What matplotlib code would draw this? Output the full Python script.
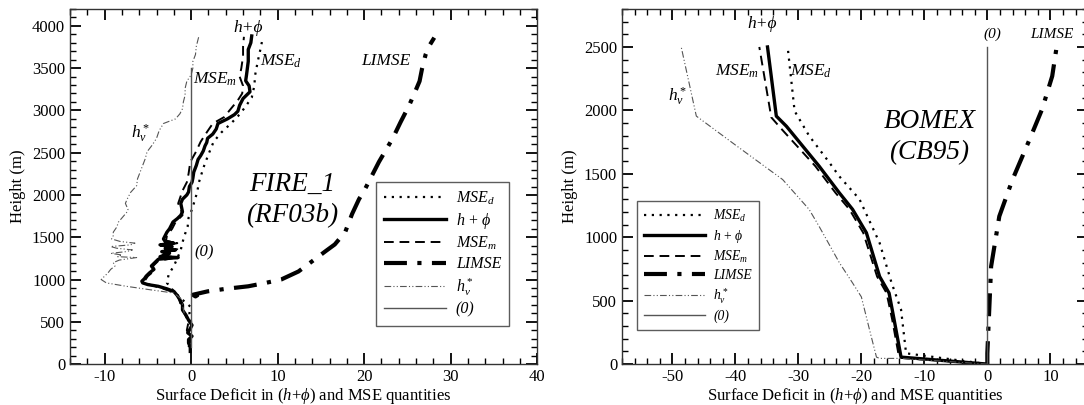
"""
Surface deficit profiles: FIRE_1 (RF03b) and BOMEX (CB95)
"""

import matplotlib
matplotlib.use('Agg')
import matplotlib.pyplot as plt
from matplotlib.ticker import MultipleLocator
from matplotlib.font_manager import FontProperties

plt.rcParams['font.family'] = ['Liberation Serif', 'DejaVu Serif']
plt.rcParams['mathtext.fontset'] = 'custom'
plt.rcParams['mathtext.rm'] = 'Liberation Serif'
plt.rcParams['mathtext.it'] = 'Liberation Serif:italic'
plt.rcParams['mathtext.bf'] = 'Liberation Serif:bold'
plt.rcParams['axes.unicode_minus'] = False

# ---------------- FIRE_1 (RF03b) ----------------
fire_hphi_z = [150, 200, 250, 290, 330, 370, 420, 460, 520, 580, 640, 700, 760, 810,
               860, 890, 920, 940, 960, 980, 1010, 1040, 1080, 1120, 1160, 1200, 1240,
               1260, 1270, 1290, 1310, 1330, 1350, 1370, 1390, 1410, 1430, 1450, 1480,
               1520, 1560, 1600, 1640, 1680, 1720, 1760, 1800, 1850, 1900, 1950, 2000,
               2035, 2100, 2150, 2200, 2270, 2350, 2420, 2465, 2520, 2580, 2620, 2670,
               2720, 2780, 2845, 2900, 2950, 2990, 3060, 3140, 3220, 3290, 3350, 3420,
               3500, 3580, 3640, 3720, 3800, 3880]
fire_hphi = [-0.1, -0.1, -0.3, -0.3, 0.1, -0.4, -0.1, 0.1, -0.3, -0.6, -1.0, -1.0, -1.3,
             -1.6, -2.0, -2.8, -3.8, -5.0, -5.6, -5.7, -5.4, -5.2, -4.8, -4.3, -4.6, -4.2,
             -3.8, -1.5, -3.6, -3.0, -2.5, -3.4, -1.8, -3.0, -2.2, -3.6, -2.0, -3.0, -3.2,
             -3.0, -2.8, -2.5, -2.3, -2.1, -1.6, -1.2, -1.0, -1.1, -1.2, -1.0, -0.5,
             -0.3, -0.2, 0.1, 0.2, 0.3, 0.6, 0.8, 1.1, 1.4, 1.6, 1.8, 1.9,
             2.5, 2.9, 3.1, 4.2, 5.0, 5.4, 5.6, 6.0, 6.8, 6.7, 6.3, 6.4,
             6.5, 6.6, 6.6, 6.6, 6.9, 7.0]

fire_msem_z = [200, 300, 400, 500, 600, 700, 800, 860, 900, 940, 980, 1040, 1100, 1160,
               1220, 1260, 1290, 1330, 1360, 1400, 1430, 1460, 1520, 1600, 1680, 1760,
               1830, 1900, 1960, 2050, 2150, 2250, 2390, 2500, 2630, 2740, 2845, 2920,
               3020, 3120, 3200, 3290, 3400, 3500, 3640, 3760, 3870]
fire_msem = [-0.3, 0.0, -0.5, -0.3, -0.8, -1.2, -1.5, -2.3, -3.5, -4.8, -5.4, -5.0, -4.3,
             -4.4, -3.8, -1.8, -3.3, -2.6, -1.6, -3.3, -1.6, -2.9, -2.8, -2.2, -1.8, -1.0,
             -1.2, -1.5, -1.3, -1.0, -0.5, -0.3, -0.1, 0.5, 1.1, 1.8, 2.5, 3.8,
             4.6, 5.4, 5.9, 6.0, 5.6, 5.8, 6.0, 6.0, 6.1]

fire_msed_z = [500, 600, 680, 760, 860, 960, 1060, 1160, 1250, 1350, 1440, 1540, 1630,
               1730, 1830, 1930, 2035, 2150, 2250, 2345, 2480, 2630, 2740, 2845, 2930,
               3020, 3150, 3290, 3420, 3580, 3720, 3870]
fire_msed = [0.0, -0.2, -0.1, -1.0, -2.0, -2.8, -2.6, -2.0, -1.6, -1.2, -1.0, -0.7, -0.4,
             -0.3, 0.1, 0.4, 0.7, 0.9, 1.2, 1.5, 2.0, 2.6, 3.5, 4.6, 5.4,
             6.1, 7.0, 7.3, 7.4, 7.7, 8.0, 8.3]

fire_limse_z = [820, 800, 820, 860, 890, 920, 960, 1000, 1095, 1240, 1340, 1415, 1500,
                1560, 1775, 1950, 2070, 2230, 2390, 2530, 2670, 2860, 3060, 3200, 3345,
                3500, 3660, 3760, 3860]
fire_limse = [0.8, 0.5, 0.2, 1.9, 4.0, 6.6, 8.6, 10.4, 12.4, 14.3, 15.6, 16.6, 17.3,
              17.8, 18.6, 19.4, 20.1, 20.9, 21.7, 22.5, 23.3, 24.2, 25.2, 25.8, 26.4,
              26.7, 27.1, 27.5, 28.1]

fire_hv_z = [600, 700, 760, 800, 840, 880, 920, 960, 1000, 1040, 1080, 1120, 1160, 1200,
             1230, 1260, 1270, 1290, 1310, 1330, 1350, 1370, 1390, 1410, 1430, 1450,
             1480, 1520, 1560, 1620, 1680, 1740, 1800, 1830, 1900, 1950, 2030, 2110,
             2190, 2270, 2350, 2430, 2510, 2590, 2670, 2760, 2845, 2900, 2960, 3020,
             3100, 3180, 3260, 3345, 3420, 3500, 3580, 3660, 3760, 3880]
fire_hv = [-0.8, -1.0, -1.0, -1.5, -2.0, -4.8, -7.5, -9.8, -10.4, -10.0, -9.6, -9.3, -8.8,
           -9.0, -8.3, -6.3, -8.5, -8.0, -9.3, -7.5, -6.8, -8.6, -9.3, -7.0, -6.5, -8.2,
           -9.2, -9.0, -9.0, -8.6, -8.4, -7.9, -7.4, -7.3, -7.6, -7.4, -7.0, -6.3,
           -6.2, -5.9, -5.6, -5.3, -5.1, -4.5, -4.0, -3.7, -3.2, -1.8, -1.3, -1.0,
           -0.9, -0.7, -0.7, -0.5, 0.0, 0.2, 0.2, 0.5, 0.6, 0.9]

fire_zero_z = [200, 3500]

# ---------------- BOMEX (CB95) ----------------
bomex_hphi_z = [0, 55, 350, 560, 690, 1035, 1220, 1350, 1560, 1875, 1955, 2500]
bomex_hphi = [0.0, -13.7, -14.8, -15.6, -17.1, -19.2, -21.4, -23.5, -26.7, -31.9, -33.5, -34.9]

bomex_msem_z = [0, 50, 350, 560, 690, 1035, 1220, 1350, 1560, 1860, 1945, 2500]
bomex_msem = [0.0, -14.0, -15.1, -16.0, -17.5, -19.7, -21.9, -24.1, -27.3, -32.8, -34.3, -36.2]

bomex_msed_z = [0, 85, 430, 640, 955, 1300, 1480, 1590, 1800, 1995, 2500]
bomex_msed = [0.0, -12.9, -13.7, -15.2, -17.1, -20.3, -23.5, -25.1, -28.3, -30.6, -31.7]

bomex_hv_z = [0, 45, 45, 55, 270, 530, 640, 800, 1085, 1220, 1455, 1720, 1955, 2500]
bomex_hv = [0.0, -14.0, -17.1, -17.6, -18.7, -20.0, -21.4, -23.5, -26.7, -28.3, -32.5, -39.8, -46.2, -48.6]

bomex_limse_z = [0, 85, 770, 1165, 1455, 1770, 2010, 2270, 2500]
bomex_limse = [0.0, 0.0, 0.6, 1.9, 4.0, 6.7, 8.7, 10.3, 11.0]

bomex_zero_z = [0, 2500]

legend_labels = [r'$MSE_d$', r'$h\,+\,\phi$', r'$MSE_m$', 'LIMSE', r'$h_v^*$', '(0)']

GREY = '#555555'


def draw_profiles(ax, msed, hphi, msem, limse, hv, zero):
    ax.plot(msed[1], msed[0], color='k', lw=1.6, linestyle=(0, (1, 2.5)), label=legend_labels[0])
    ax.plot(hphi[1], hphi[0], color='k', lw=2.4, linestyle='-', label=legend_labels[1])
    ax.plot(msem[1], msem[0], color='k', lw=1.4, linestyle=(0, (5, 3)), label=legend_labels[2])
    ax.plot(limse[1], limse[0], color='k', lw=3.0, linestyle=(0, (5.5, 2.5, 1, 2.5)), label=legend_labels[3])
    ax.plot(hv[1], hv[0], color=GREY, lw=0.8, linestyle=(0, (6, 2, 1, 2, 1, 2)), label=legend_labels[4])
    ax.plot([0, 0], zero, color=GREY, lw=1.0, linestyle='-', label=legend_labels[5])


def style_axes(ax, xmaj, ymaj):
    ax.xaxis.set_major_locator(MultipleLocator(xmaj))
    ax.xaxis.set_minor_locator(MultipleLocator(2))
    ax.yaxis.set_major_locator(MultipleLocator(ymaj))
    ax.yaxis.set_minor_locator(MultipleLocator(100))
    ax.tick_params(which='both', direction='in', top=True, right=True, labelsize=12)
    ax.tick_params(which='major', length=8, width=1.3)
    ax.tick_params(which='minor', length=4, width=1.0)
    for sp in ax.spines.values():
        sp.set_linewidth(1.0)
        sp.set_color('#333333')
    ax.set_ylabel('Height (m)', fontsize=12)
    ax.set_xlabel(r'Surface Deficit in $\mathit{(h{+}\phi)}$ and MSE quantities', fontsize=12, labelpad=1)


fig = plt.figure(figsize=(10.84, 4.05), dpi=100)
ax1 = fig.add_axes([0.0646, 0.101, 0.431, 0.877])
ax2 = fig.add_axes([0.5738, 0.101, 0.430, 0.877])

# left panel
draw_profiles(ax1, (fire_msed_z, fire_msed), (fire_hphi_z, fire_hphi), (fire_msem_z, fire_msem),
              (fire_limse_z, fire_limse), (fire_hv_z, fire_hv), fire_zero_z)
ax1.set_xlim(-14, 40)
ax1.set_ylim(0, 4200)
style_axes(ax1, 10, 500)

itp = dict(style='italic', fontsize=12.5)
ax1.text(6.6, 3980, 'h+ϕ', ha='center', va='center', **itp)
ax1.text(10.4, 3580, r'$MSE_d$', ha='center', va='center', fontsize=12.5)
ax1.text(2.8, 3370, r'$MSE_m$', ha='center', va='center', fontsize=12.5)
ax1.text(-5.9, 2730, r'$h_v^*$', ha='center', va='center', fontsize=12.5)
ax1.text(22.5, 3580, 'LIMSE', ha='center', va='center', **itp)
ax1.text(1.5, 1320, '(0)', ha='center', va='center', style='italic', fontsize=12)
ax1.text(11.7, 2130, 'FIRE_1', ha='center', va='center', style='italic', fontsize=19.5)
ax1.text(11.7, 1760, '(RF03b)', ha='center', va='center', style='italic', fontsize=19.5)

leg1 = ax1.legend(loc='lower left', bbox_to_anchor=(0.655, 0.108), frameon=True, fancybox=False,
                  prop=FontProperties(family='Liberation Serif', style='italic', size=11.5),
                  handlelength=3.9, handletextpad=0.6, labelspacing=0.25, borderpad=0.5,
                  borderaxespad=0)
leg1.get_frame().set_edgecolor('#333333')
leg1.get_frame().set_linewidth(1.0)

# right panel
draw_profiles(ax2, (bomex_msed_z, bomex_msed), (bomex_hphi_z, bomex_hphi), (bomex_msem_z, bomex_msem),
              (bomex_limse_z, bomex_limse), (bomex_hv_z, bomex_hv), bomex_zero_z)
ax2.set_xlim(-58, 16)
ax2.set_ylim(0, 2800)
style_axes(ax2, 10, 500)

ax2.text(-35.7, 2680, 'h+ϕ', ha='center', va='center', **itp)
ax2.text(-39.8, 2310, r'$MSE_m$', ha='center', va='center', fontsize=12.5)
ax2.text(-28.0, 2310, r'$MSE_d$', ha='center', va='center', fontsize=12.5)
ax2.text(-49.2, 2110, r'$h_v^*$', ha='center', va='center', fontsize=12.5)
ax2.text(0.8, 2600, '(0)', ha='center', va='center', style='italic', fontsize=11)
ax2.text(10.3, 2600, 'LIMSE', ha='center', va='center', style='italic', fontsize=11)
ax2.text(-9.2, 1910, 'BOMEX', ha='center', va='center', style='italic', fontsize=19.5)
ax2.text(-9.2, 1665, '(CB95)', ha='center', va='center', style='italic', fontsize=19.5)

leg2 = ax2.legend(loc='lower left', bbox_to_anchor=(0.032, 0.096), frameon=True, fancybox=False,
                  prop=FontProperties(family='Liberation Serif', style='italic', size=9.8),
                  handlelength=4.5, handletextpad=0.6, labelspacing=0.3, borderpad=0.5,
                  borderaxespad=0)
leg2.get_frame().set_edgecolor('#333333')
leg2.get_frame().set_linewidth(1.0)

fig.savefig('out.png', dpi=100)
